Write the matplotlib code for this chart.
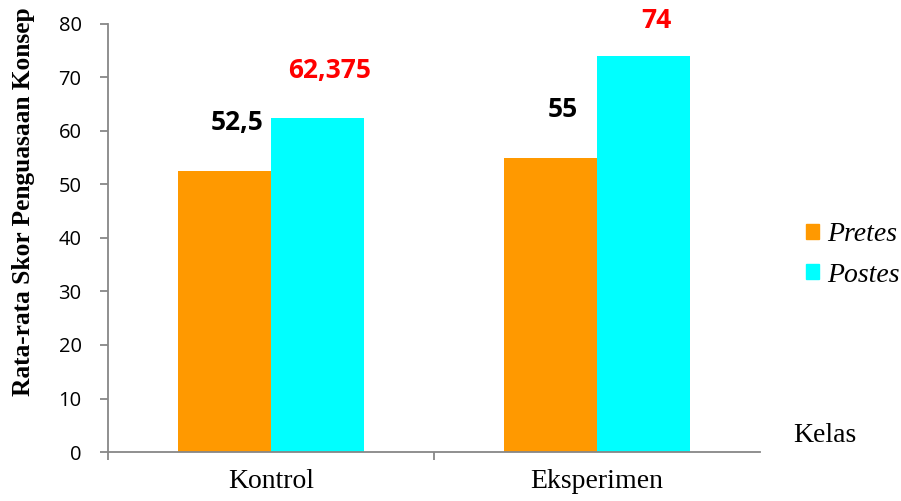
import matplotlib
matplotlib.use("Agg")
import matplotlib.pyplot as plt
from matplotlib.patches import Patch
import numpy as np

kelas = ["Kontrol", "Eksperimen"]
pretes = [52.5, 55]
postes = [62.375, 74]
pretes_lbl = ["52,5", "55"]
postes_lbl = ["62,375", "74"]
yticks = [0, 10, 20, 30, 40, 50, 60, 70, 80]

c_pre = "#FF9900"
c_post = "#00FFFF"
grey = "#878787"

fig = plt.figure(figsize=(9.01, 5.01), dpi=100)
ax = fig.add_axes([108/901, 49/501, 652/901, 428/501])

x = np.arange(len(kelas))
w = 0.285
b1 = ax.bar(x - w/2, pretes, w, color=c_pre)
b2 = ax.bar(x + w/2, postes, w, color=c_post)

# data labels, pulled down a bit when the bar is close to the top
for bars, lbls, col in [(b1, pretes_lbl, "black"), (b2, postes_lbl, "red")]:
    for b, t in zip(bars, lbls):
        dy = 25 if b.get_height() < 70 else 16
        ax.annotate(t, (b.get_x() + b.get_width()/2, b.get_height()),
                    xytext=(9, dy), textcoords="offset points",
                    ha="center", va="bottom", fontsize=19, fontweight="bold",
                    family="Open Sans", color=col, annotation_clip=False)

ax.set_xlim(-0.5, 1.5)
ax.set_ylim(0, 80)
ax.set_yticks(yticks)
ax.set_yticklabels([str(v) for v in yticks], family="Open Sans", fontsize=14.5)
ax.set_xticks(x)
ax.set_xticklabels(kelas, family="Liberation Serif", fontsize=20)
ax.set_xticks([-0.5, 0.5], minor=True)
ax.tick_params(axis="x", which="major", length=0, pad=12)
ax.tick_params(axis="x", which="minor", length=6, width=1.3, color=grey, direction="out")
ax.tick_params(axis="y", length=6, width=1.3, color=grey, direction="out", pad=13)

for s in ["top", "right"]:
    ax.spines[s].set_visible(False)
for s in ["left", "bottom"]:
    ax.spines[s].set_color(grey)
    ax.spines[s].set_linewidth(1.3)

fig.text(24/901, 1 - 202/501, "Rata-rata Skor Penguasaan Konsep", rotation=90,
         ha="center", va="center", family="Liberation Serif", fontweight="bold", fontsize=18.3)
fig.text(793/901, 1 - 442/501, "Kelas", ha="left", va="baseline",
         family="Liberation Serif", fontsize=20)

handles = [Patch(color=c_pre, label="Pretes"), Patch(color=c_post, label="Postes")]
fig.legend(handles=handles, loc="center left", bbox_to_anchor=(806/901, 1 - 255/501),
           frameon=False, borderpad=0, borderaxespad=0, handlelength=0.45, handleheight=0.45,
           handletextpad=0.3, labelspacing=0.55,
           prop={"family": "Liberation Serif", "style": "italic", "size": 20})

fig.savefig("out.png", dpi=100)
